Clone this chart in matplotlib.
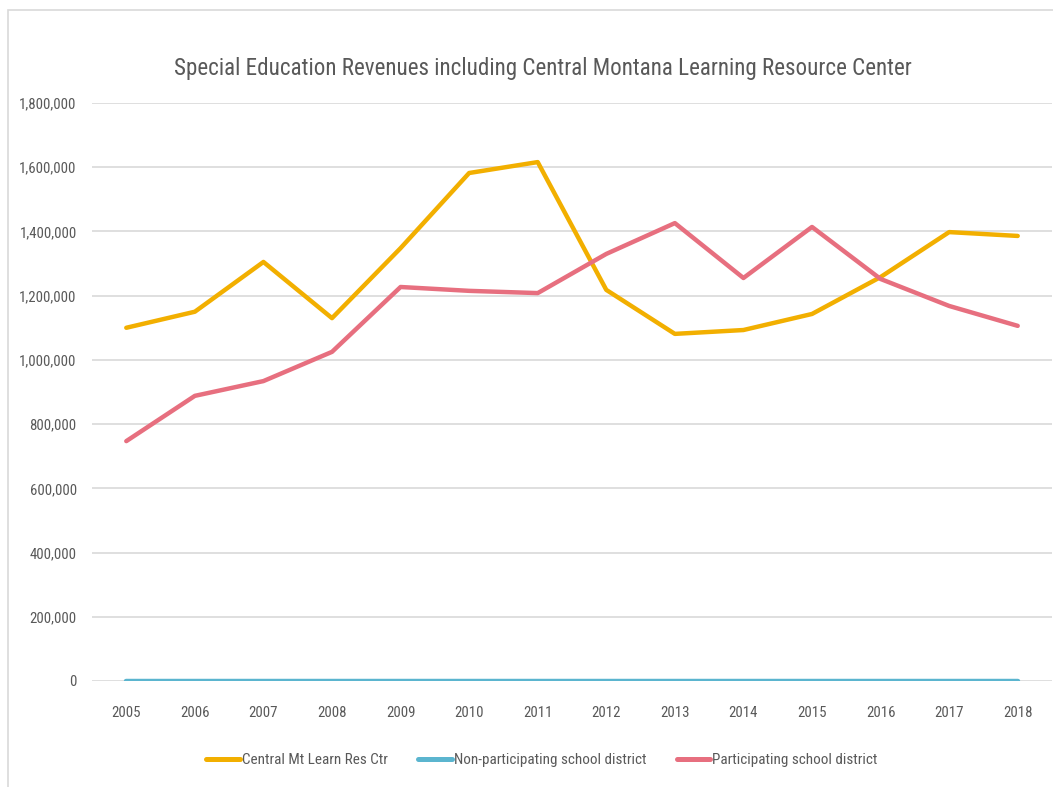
import matplotlib.pyplot as plt
from matplotlib.patches import Rectangle
from matplotlib.ticker import FuncFormatter
from matplotlib import font_manager

years = ['2005', '2006', '2007', '2008', '2009', '2010', '2011',
         '2012', '2013', '2014', '2015', '2016', '2017', '2018']

# revenues
central_mt = [1100000, 1150000, 1305000, 1130000, 1348000, 1582000, 1616000,
              1218000, 1081000, 1093000, 1143000, 1258000, 1398000, 1386000]
non_participating = [0, 0, 0, 0, 0, 0, 0, 0, 0, 0, 0, 0, 0, 0]
participating = [747000, 888000, 934000, 1025000, 1227000, 1215000, 1208000,
                 1330000, 1426000, 1255000, 1414000, 1252000, 1168000, 1106000]

names = ['Central Mt Learn Res Ctr', 'Non-participating school district',
         'Participating school district']

# want something narrow like calibri light
fams = {f.name for f in font_manager.fontManager.ttflist}
fam, stretch = 'DejaVu Sans', 'condensed'
for cand in ['Liberation Sans Narrow', 'Roboto Condensed', 'Open Sans Condensed']:
    if cand in fams:
        fam, stretch = cand, 'normal'
        break
plt.rcParams['font.family'] = fam
plt.rcParams['font.stretch'] = stretch

txt = '#595959'
fig = plt.figure(figsize=(10.53, 7.87), dpi=100)
ax = fig.add_axes([92/1053, 1 - 681/787, 960/1053, 578/787])

# excel style chart border
fig.patches.append(Rectangle((8/1053, -0.05), 1.1, 1 - 10/787 + 0.05,
                             transform=fig.transFigure, fill=False,
                             edgecolor='#d9d9d9', lw=1.2))

x = range(len(years))
ax.plot(x, central_mt, color='#F2AF00', lw=3.2, solid_capstyle='round', label=names[0])
ax.plot(x, non_participating, color='#5BB5CF', lw=3.2, solid_capstyle='round', label=names[1])
ax.plot(x, participating, color='#E76F7F', lw=3.2, solid_capstyle='round', label=names[2])

ax.set_xlim(-0.5, len(years) - 0.5)
ax.set_ylim(0, 1800000)
ax.set_yticks(range(0, 1800001, 200000))
ax.yaxis.set_major_formatter(FuncFormatter(lambda v, p: f'{int(v):,}'))
ax.set_xticks(list(x))
ax.set_xticklabels(years)
ax.grid(axis='y', color='#d9d9d9', lw=1.2)
ax.set_axisbelow(True)
for s in ax.spines.values():
    s.set_visible(False)
ax.tick_params(length=0, colors=txt, labelsize=10.7)
ax.tick_params(axis='y', pad=11)
ax.tick_params(axis='x', pad=18)

title = fig.text(543/1053, 1 - 68/787,
                 'Special Education Revenues including Central Montana Learning Resource Center',
                 ha='center', va='center', fontsize=18, color=txt)

leg = fig.legend(loc='center', bbox_to_anchor=(542/1053, 1 - 760/787), ncol=3, frameon=False,
                 fontsize=10.9, labelcolor=txt, handlelength=2.2, handletextpad=0.15,
                 columnspacing=2.0)
for h in leg.get_lines():
    h.set_linewidth(3.6)

# shrink/grow the title so it spans the same width as the reference (~735 px)
fig.canvas.draw()
w = title.get_window_extent().width
title.set_fontsize(min(22, 18 * 735 / w))

fig.savefig('out.png', dpi=100)
